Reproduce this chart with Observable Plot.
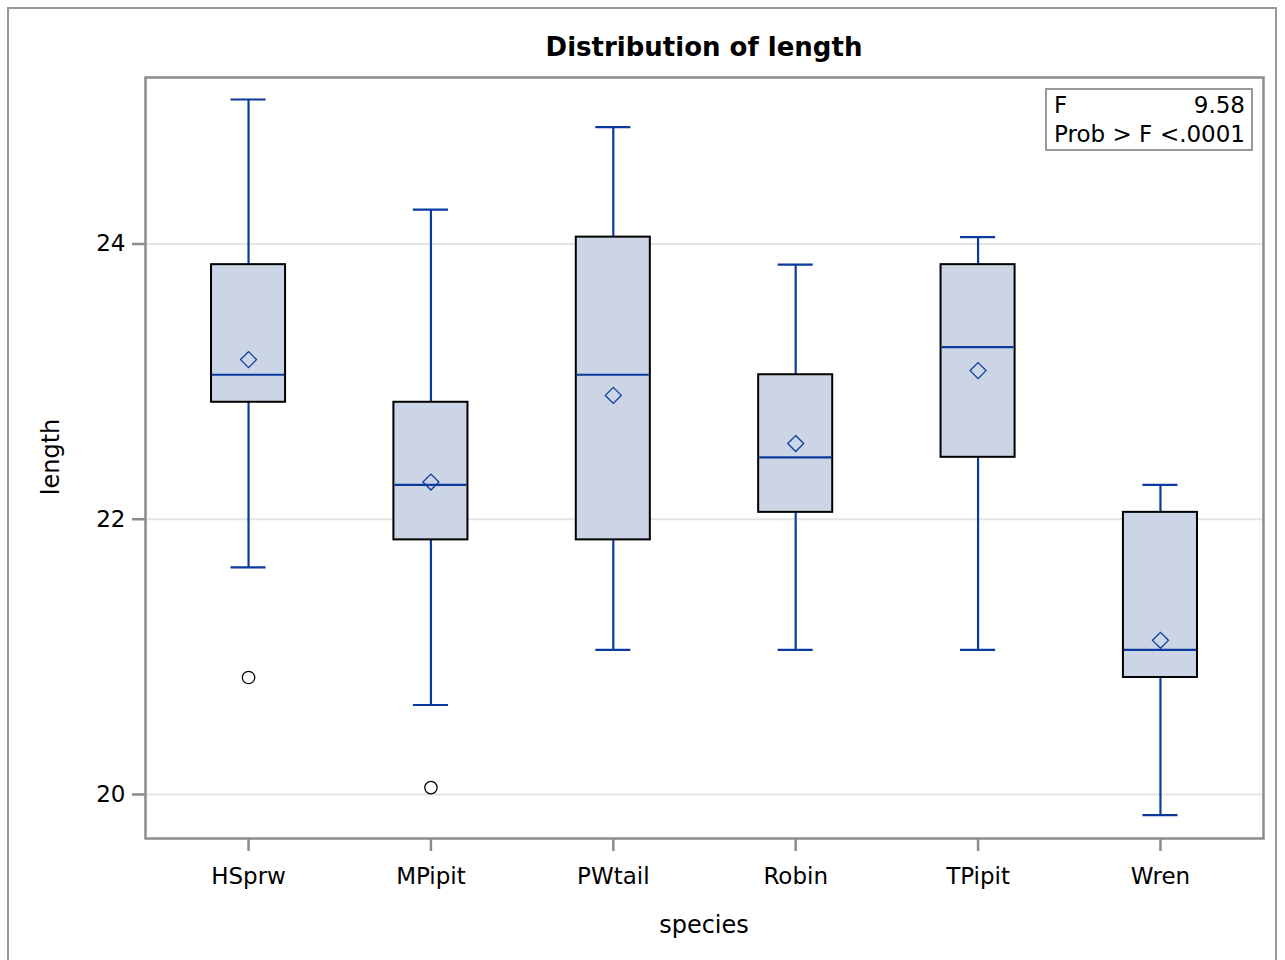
<!DOCTYPE html>
<html>
<head>
<meta charset="utf-8">
<script src="https://cdn.jsdelivr.net/npm/d3@7"></script>
<script src="https://cdn.jsdelivr.net/npm/@observablehq/plot@0.6"></script>
<style>
  html, body { margin: 0; padding: 0; background: #fff; }
  #wrap { position: relative; width: 1285px; height: 960px; font-family: "DejaVu Sans", sans-serif; color: #000; }
  #border { position: absolute; left: 7px; top: 7px; width: 1270px; height: 960px; border: 2px solid #999; box-sizing: border-box; }
  #title { position: absolute; left: 145px; width: 1118px; top: 30px; line-height: 34px; text-align: center; font-weight: bold; font-size: 26px; }
  #inset { position: absolute; left: 1045px; top: 88px; width: 208px; height: 63px; border: 2px solid #999; box-sizing: border-box; font-size: 23px; line-height: 29px; padding: 1px 6px 0 7px; background: #fff; }
  #inset div { display: flex; justify-content: space-between; }
  #ylabel { position: absolute; left: 51px; top: 457px; transform: translate(-50%, -50%) rotate(-90deg); font-size: 24px; line-height: 30px; white-space: nowrap; }
  #xlabel { position: absolute; left: 145px; width: 1118px; top: 910px; text-align: center; font-size: 24px; line-height: 30px; }
  #chart { position: absolute; left: 0; top: 0; }
</style>
</head>
<body>
<div id="wrap">
  <div id="border"></div>
  <div id="chart"></div>
  <div id="title">Distribution of length</div>
  <div id="inset">
    <div><span>F</span><span>9.58</span></div>
    <div><span>Prob &gt; F</span><span>&lt;.0001</span></div>
  </div>
  <div id="ylabel">length</div>
  <div id="xlabel">species</div>
</div>
<script>
const species = ["HSprw", "MPipit", "PWtail", "Robin", "TPipit", "Wren"];
const whiskerLow  = [21.65, 20.65, 21.05, 21.05, 21.05, 19.85];
const q1          = [22.85, 21.85, 21.85, 22.05, 22.45, 20.85];
const median      = [23.05, 22.25, 23.05, 22.45, 23.25, 21.05];
const q3          = [23.85, 22.85, 24.05, 23.05, 23.85, 22.05];
const whiskerHigh = [25.05, 24.25, 24.85, 23.85, 24.05, 22.25];
const means       = [23.16, 22.27, 22.90, 22.55, 23.08, 21.12];
const outlierSpecies = ["HSprw", "MPipit"];
const outlierValues  = [20.85, 20.05];
const yTicks = [20, 22, 24];

const boxes = species.map((s, i) => ({
  species: s, low: whiskerLow[i], q1: q1[i], median: median[i],
  q3: q3[i], high: whiskerHigh[i], mean: means[i]
}));
const outliers = outlierSpecies.map((s, i) => ({species: s, value: outlierValues[i]}));

const blue = "#0b3a9e";
const gray = "#8c8c8c";

const chart = Plot.plot({
  width: 1285,
  height: 960,
  marginLeft: 145,
  marginRight: 22,
  marginTop: 77,
  marginBottom: 122,
  style: {fontFamily: "'DejaVu Sans', sans-serif", fontSize: "23px", color: "#000", background: "transparent"},
  x: {domain: species, paddingInner: 0.594, paddingOuter: 0.362, round: false, label: null},
  y: {domain: [19.68, 25.21], label: null},
  marks: [
    Plot.gridY(yTicks, {stroke: "#e4e4e4", strokeOpacity: 1, strokeWidth: 2}),
    Plot.axisY(yTicks, {tickSize: 13, tickPadding: 7, stroke: gray, strokeWidth: 2.5, fontSize: 23, tickFormat: d => String(d), label: null}),
    Plot.axisX({tickSize: 13, tickPadding: 16, stroke: gray, strokeWidth: 2.5, fontSize: 23, label: null}),
    Plot.ruleX(boxes, {x: "species", y1: "low", y2: "high", stroke: blue, strokeWidth: 2.2}),
    Plot.tickY(boxes, {x: "species", y: "low", stroke: blue, strokeWidth: 2.2, insetLeft: 19.5, insetRight: 19.5}),
    Plot.tickY(boxes, {x: "species", y: "high", stroke: blue, strokeWidth: 2.2, insetLeft: 19.5, insetRight: 19.5}),
    Plot.barY(boxes, {x: "species", y1: "q1", y2: "q3", fill: "#cbd5e5", stroke: "#000", strokeWidth: 2}),
    Plot.tickY(boxes, {x: "species", y: "median", stroke: blue, strokeWidth: 2.2, insetLeft: 1, insetRight: 1}),
    Plot.dot(boxes, {x: "species", y: "mean", symbol: "diamond2", r: 7.2, stroke: blue, strokeWidth: 1.3, fill: "none"}),
    Plot.dot(outliers, {x: "species", y: "value", symbol: "circle", r: 6.2, stroke: "#000", strokeWidth: 1.3, fill: "none"}),
    Plot.frame({stroke: gray, strokeWidth: 2.5})
  ]
});
document.getElementById("chart").appendChild(chart);
</script>
</body>
</html>
